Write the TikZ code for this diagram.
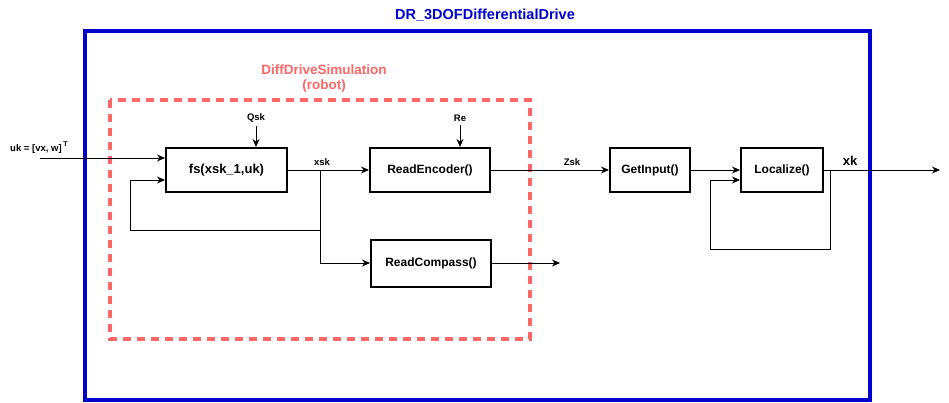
\documentclass[tikz,border=0pt]{standalone}
\usepackage{fontspec}
\setmainfont{Liberation Sans}
\usetikzlibrary{arrows.meta,calc}
\definecolor{outerblue}{HTML}{0000CC}
\definecolor{simred}{HTML}{FF6666}
\begin{document}
\begin{tikzpicture}[x=1pt,y=-1pt,
  block/.style={draw,line width=2pt,minimum width=#1,minimum height=44pt,inner sep=0pt,font=\fontsize{12}{14}\selectfont\bfseries},
  conn/.style={line width=0.9pt,-{Stealth[length=8pt,width=7pt]}},
  plain/.style={line width=0.9pt},
  lbl/.style={font=\fontsize{9.5}{11}\selectfont\bfseries,inner sep=0pt}]
\useasboundingbox (0,0) rectangle (949,402);
% outer container
\draw[outerblue,line width=3.2pt] (85,31) rectangle (870,400);
\node[outerblue,font=\fontsize{14.5}{17}\selectfont\bfseries] (title) at (485,15) {DR\_3DOFDifferentialDrive};
% simulation group
\draw[simred,line width=3.3pt,dash pattern=on 8pt off 6pt] (110,100) rectangle (530,339);
\node[simred,font=\fontsize{13.5}{15}\selectfont\bfseries,align=center] (simlbl) at (324,79) {DiffDriveSimulation\\(robot)};
% blocks
\node[block=121pt] (fs) at (226.5,170) {\fontsize{13}{15}\selectfont fs(xsk\_1,uk)};
\node[block=120pt] (enc) at (430,170) {ReadEncoder()};
\node[block=120pt,minimum height=47pt] (comp) at (431,263.5) {ReadCompass()};
\node[block=80pt] (gin) at (650,170) {GetInput()};
\node[block=82pt] (loc) at (782,170) {Localize()};
% labels
\node[lbl] (qsk) at (256,118) {Qsk};
\node[lbl] (re) at (460,118) {Re};
\node[lbl] (xsklbl) at (322,162) {xsk};
\node[lbl] (zsk) at (572,162) {Zsk};
\node[font=\fontsize{13}{15}\selectfont\bfseries,inner sep=0pt] (xk) at (850,161) {xk};
\node[lbl,anchor=west] (uk) at (10,148) {uk = [vx, w]\,\raisebox{5pt}{\fontsize{7}{8}\selectfont T}};
% coordinates
\coordinate (ukstart) at (40,158);
\coordinate (jx) at (320,170);
\coordinate (fbA) at (320,230);
\coordinate (fbB) at (130,230);
\coordinate (fbC) at (130,180);
\coordinate (compout) at (560,263);
\coordinate (locj) at (830,170);
\coordinate (lfA) at (830,249);
\coordinate (lfB) at (710,249);
\coordinate (lfC) at (710,180);
\coordinate (xkend) at (940,170);
% connectors
\draw[conn] (ukstart) -- (ukstart -| fs.west);
\draw[conn] (qsk.south) ++(0,3) -- (fs.north -| qsk);
\draw[conn] (re.south) ++(0,3) -- (enc.north -| re);
\draw[conn] (fs.east) -- (enc.west);
\draw[plain] (jx) -- (fbA) -- (fbB) -- (fbC);
\draw[conn] (fbC) -- (fbC -| fs.west);
\draw[conn] (jx) |- (comp.west |- compout);
\draw[conn] (comp.east |- compout) -- (compout);
\draw[conn] (enc.east) -- (gin.west);
\draw[conn] (gin.east) -- (loc.west);
\draw[plain] (loc.east) -- (locj) -- (lfA) -- (lfB) -- (lfC);
\draw[conn] (lfC) -- (lfC -| loc.west);
\draw[conn] (locj) -- (xkend);
\end{tikzpicture}
\end{document}
